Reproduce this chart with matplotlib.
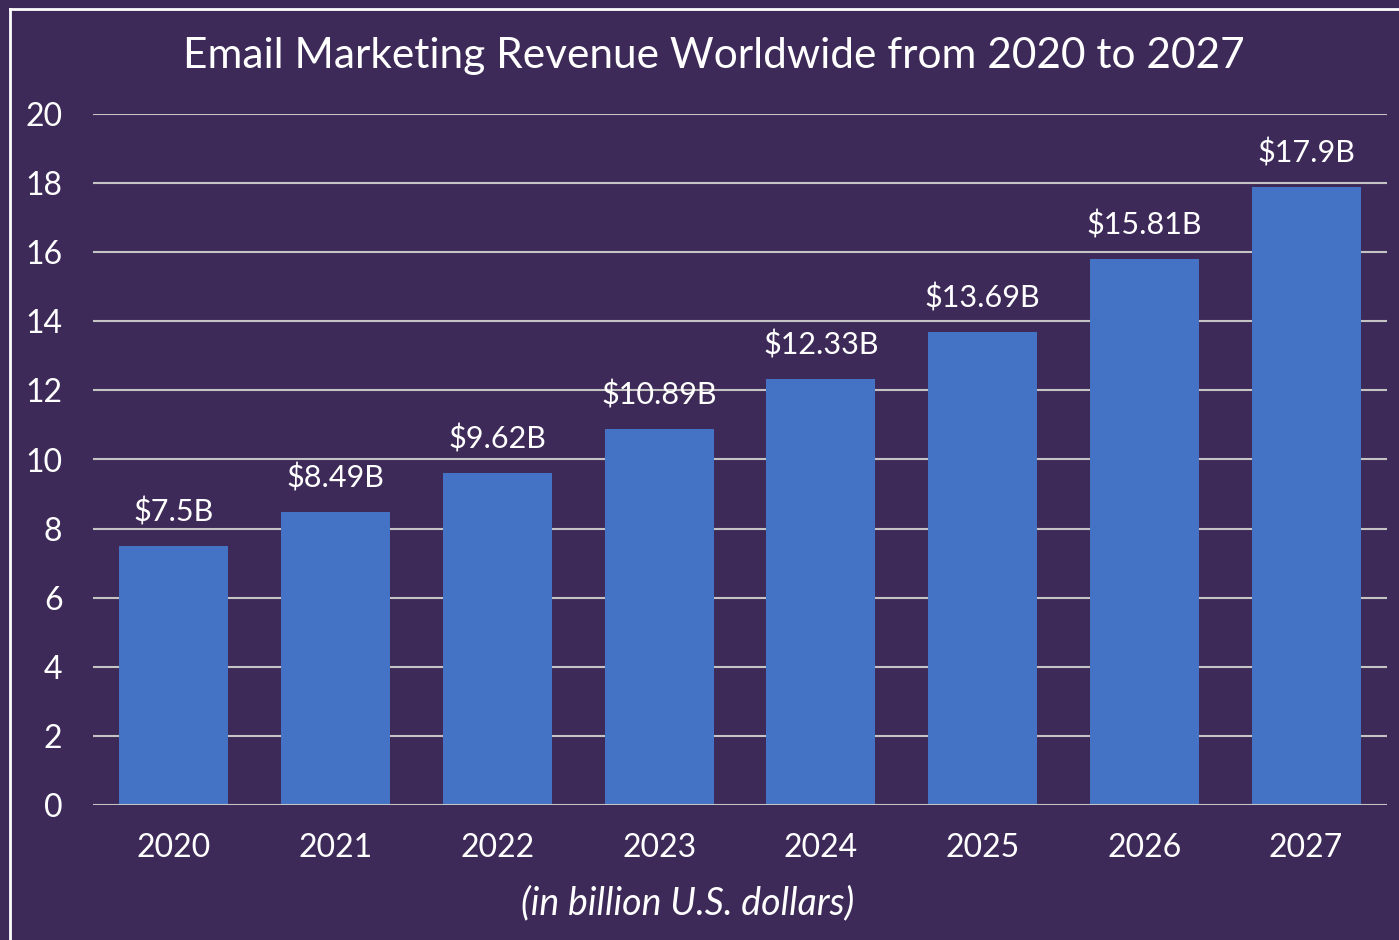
import matplotlib
matplotlib.use("Agg")
import matplotlib.pyplot as plt
from matplotlib.lines import Line2D

years = ["2020", "2021", "2022", "2023", "2024", "2025", "2026", "2027"]
revenue = [7.5, 8.49, 9.62, 10.89, 12.33, 13.69, 15.81, 17.9]
bar_labels = ["$7.5B", "$8.49B", "$9.62B", "$10.89B", "$12.33B", "$13.69B", "$15.81B", "$17.9B"]
y_ticks = [0, 2, 4, 6, 8, 10, 12, 14, 16, 18, 20]

BG = "#3e2a58"
BAR = "#4472c4"
GRID = "#c4c4c4"

plt.rcParams["font.family"] = ["Lato", "DejaVu Sans"]

W, H = 1399, 940
fig = plt.figure(figsize=(W / 100, H / 100), dpi=100, facecolor=BG)
ax = fig.add_axes([93 / W, 1 - 805 / H, (1387 - 93) / W, (805 - 114) / H])
ax.set_facecolor(BG)

x = range(len(years))
ax.bar(x, revenue, width=0.675, color=BAR, zorder=2)
for i, (v, lab) in enumerate(zip(revenue, bar_labels)):
    ax.annotate(lab, (i, v), xytext=(0, 14), textcoords="offset points",
                ha="center", va="bottom", color="white", fontsize=22)

ax.set_xlim(-0.5, len(years) - 0.5)
ax.set_ylim(0, 20)
ax.set_yticks(y_ticks)
ax.set_xticks(list(x))
ax.set_xticklabels(years)
for t in y_ticks:
    ax.axhline(t, color=GRID, linewidth=1.5, zorder=1 if t else 3)

ax.tick_params(axis="both", length=0, colors="white", labelsize=23)
ax.tick_params(axis="x", pad=20)
ax.tick_params(axis="y", pad=22)
for s in ax.spines.values():
    s.set_visible(False)

fig.text(714 / W, 1 - 56 / H, "Email Marketing Revenue Worldwide from 2020 to 2027",
         ha="center", va="center", color="white", fontsize=30.5)
fig.text(688 / W, 1 - 903 / H, "(in billion U.S. dollars)", ha="center", va="center",
         color="white", fontsize=27, style="italic")

# white frame, cut off at right and bottom
fig.add_artist(Line2D([9.5 / W, 9.5 / W], [0, 1 - 8.5 / H], transform=fig.transFigure,
                      color="white", linewidth=2))
fig.add_artist(Line2D([9.5 / W, 1], [1 - 8.5 / H, 1 - 8.5 / H], transform=fig.transFigure,
                      color="white", linewidth=2))

fig.savefig("out.png", dpi=100, facecolor=BG)
